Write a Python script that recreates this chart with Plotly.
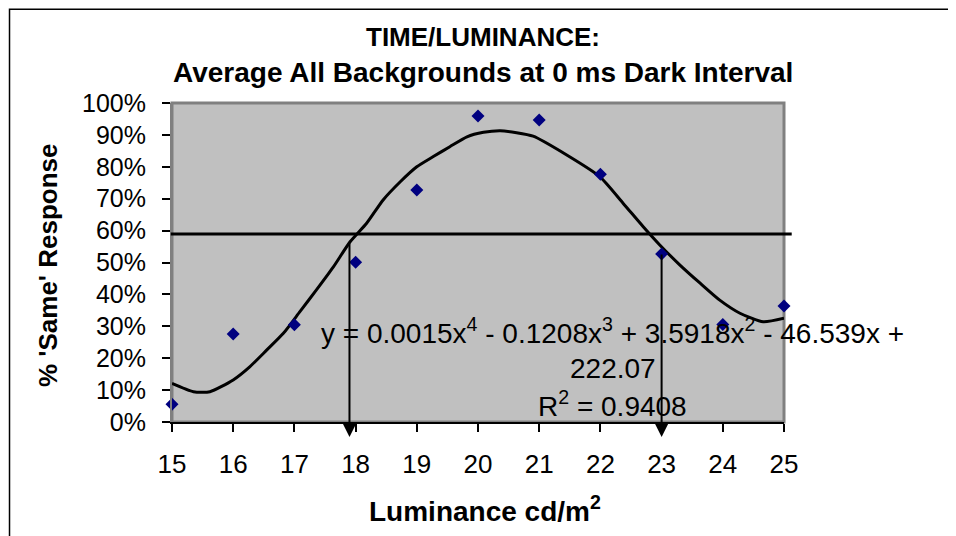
import plotly.graph_objects as go

# measured points (luminance cd/m2, % 'same' response)
lum = [15, 16, 17, 18, 19, 20, 21, 22, 23, 24, 25]
same_pct = [5.6, 27.6, 30.5, 50.1, 72.7, 95.9, 94.7, 77.7, 52.7, 30.6, 36.4]

# 4th order polynomial trendline
trend_x = [15.0, 15.35, 15.62, 16.0, 16.27, 16.55, 16.82, 17.09, 17.36, 17.64,
           17.91, 18.18, 18.45, 18.73, 19.0, 19.27, 19.54, 19.82, 20.09, 20.36,
           20.63, 20.9, 21.45, 21.99, 22.37, 22.7, 22.97, 23.3, 23.63, 23.95,
           24.28, 24.66, 25.0]
trend_y = [12.1, 9.5, 9.5, 13.2, 17.3, 22.6, 27.8, 34.6, 41.4, 48.7,
           56.5, 62.3, 69.6, 75.3, 80.0, 83.2, 86.3, 89.4, 90.8, 91.3,
           90.7, 89.6, 83.7, 76.9, 68.6, 61.2, 55.5, 49.2, 43.5, 38.2,
           34.1, 31.4, 32.5]

y_ticks = [0, 10, 20, 30, 40, 50, 60, 70, 80, 90, 100]
y_ticktext = [f"{v}%" for v in y_ticks]

threshold = 58.9
arrow_x = [17.9, 23.0]
arrow_top = [56.4, 53.0]
arrow_tip = -4.7

eq_lines = ["y = 0.0015x<sup>4</sup> - 0.1208x<sup>3</sup> + 3.5918x<sup>2</sup> - 46.539x +",
            "222.07",
            "R<sup>2</sup> = 0.9408"]
eq_y = [28.6, 16.9, 5.6]

FONT = "Liberation Sans, Arial, sans-serif"
XR = [15, 25]
YR = [0, 100]

fig = go.Figure()

fig.add_trace(go.Scatter(x=trend_x, y=trend_y, mode="lines",
                         line=dict(color="black", width=3, shape="spline", smoothing=0.6),
                         hoverinfo="skip"))

fig.add_trace(go.Scatter(x=lum, y=same_pct, mode="markers",
                         marker=dict(symbol="diamond", size=10, color="#000080"),
                         cliponaxis=False))

def py(v):
    return (v - YR[0]) / (YR[1] - YR[0])

shapes = [
    # plot area border
    dict(type="rect", xref="paper", yref="paper", x0=0, x1=1, y0=0, y1=1,
         line=dict(color="#808080", width=3), layer="below"),
    # threshold line
    dict(type="line", xref="paper", yref="paper", x0=-0.002, x1=1.0126,
         y0=py(threshold), y1=py(threshold), line=dict(color="black", width=3)),
    # outer chart frame
    dict(type="rect", xref="paper", yref="paper", x0=-0.2655, x1=1.5, y0=-0.6, y1=1.2935,
         line=dict(color="black", width=1.5)),
]

annotations = []
for ax, top in zip(arrow_x, arrow_top):
    annotations.append(dict(x=ax, y=arrow_tip, xref="x", yref="y",
                            ax=ax, ay=top, axref="x", ayref="y", text="",
                            showarrow=True, arrowhead=2, arrowwidth=2, arrowsize=1.45,
                            arrowcolor="black", standoff=0))

for txt, yv in zip(eq_lines, eq_y):
    annotations.append(dict(x=22.2, y=yv, xref="x", yref="y", text=txt, showarrow=False,
                            xanchor="center", yanchor="middle",
                            font=dict(family=FONT, size=28, color="black")))

for txt, yv, fs in zip(["<b>TIME/LUMINANCE:</b>",
                        "<b>Average All Backgrounds at 0 ms Dark Interval</b>"],
                       [1.207, 1.097], [26, 28]):
    annotations.append(dict(x=0.508, y=yv, xref="paper", yref="paper", text=txt,
                            showarrow=False, xanchor="center", yanchor="middle",
                            font=dict(family=FONT, size=fs, color="black")))

annotations.append(dict(x=0.512, y=-0.273, xref="paper", yref="paper",
                        text="<b>Luminance cd/m<sup>2</sup></b>", showarrow=False,
                        xanchor="center", yanchor="middle",
                        font=dict(family=FONT, size=28, color="black")))
annotations.append(dict(x=-0.2026, y=0.492, xref="paper", yref="paper",
                        text="<b>% 'Same' Response</b>", showarrow=False, textangle=-90,
                        xanchor="center", yanchor="middle",
                        font=dict(family=FONT, size=26, color="black")))

# page body has an 8px margin, so the figure is 8px smaller each way
fig.update_layout(
    width=948, height=528,
    margin=dict(l=164, r=172, t=95, b=114),
    paper_bgcolor="white", plot_bgcolor="#C0C0C0",
    showlegend=False,
    font=dict(family=FONT, size=26, color="black"),
    shapes=shapes, annotations=annotations,
)
fig.update_xaxes(range=XR, tickvals=lum, ticks="outside", ticklen=8, tickwidth=1.5,
                 tickcolor="black", showgrid=False, zeroline=False,
                 showline=True, linecolor="black", linewidth=1.5,
                 ticklabelstandoff=10, tickfont=dict(size=26))
fig.update_yaxes(range=YR, tickvals=y_ticks, ticktext=y_ticktext,
                 ticks="outside", ticklen=8, tickwidth=1.5, tickcolor="black",
                 showgrid=False, zeroline=False, showline=True, linecolor="#808080",
                 linewidth=2, ticklabelstandoff=11, tickfont=dict(size=25))

fig.write_html("out.html")
